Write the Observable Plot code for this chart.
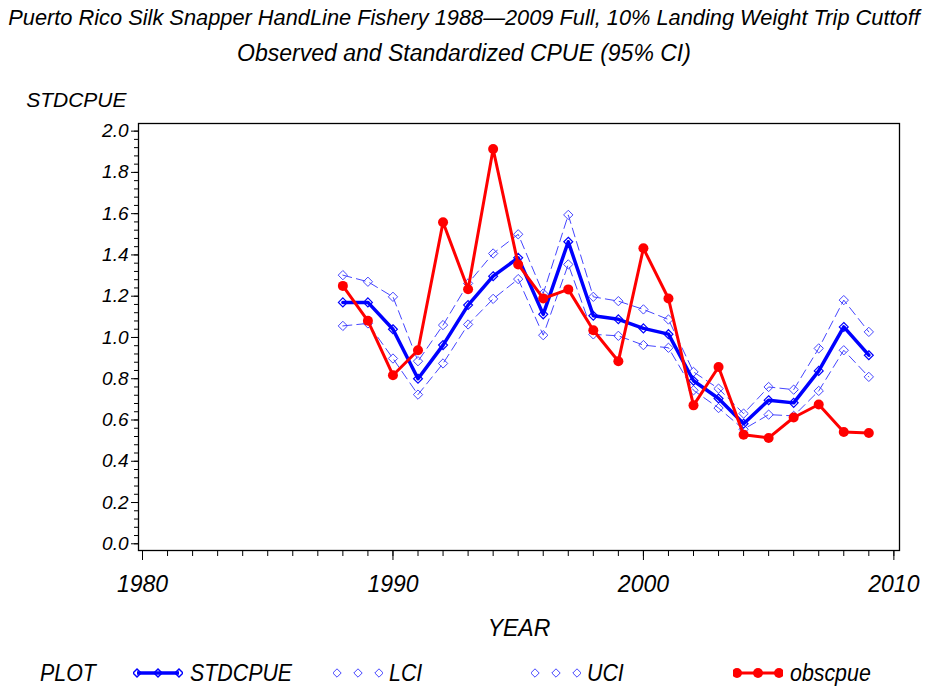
<!DOCTYPE html>
<html>
<head>
<meta charset="utf-8">
<script src="https://cdn.jsdelivr.net/npm/d3@7"></script>
<script src="https://cdn.jsdelivr.net/npm/@observablehq/plot@0.6"></script>
<style>
  body { margin: 0; background: #fff; width: 928px; height: 687px; overflow: hidden; }
  .f { font-family: "Liberation Sans", Arial, sans-serif; font-style: italic; color: #000; }
  #title { position: relative; height: 80px; }
  #title div { position: absolute; left: 0; width: 928px; text-align: center; white-space: nowrap; }
  #legend { position: relative; height: 46px; }
  #legend .t { position: absolute; font-size: 24px; line-height: 24px; white-space: nowrap; transform: scaleX(0.89); transform-origin: left center; }
  #legend svg { position: absolute; }
</style>
</head>
<body>
<div id="title" class="f">
  <div style="top:5px;font-size:21.8px;">Puerto Rico Silk Snapper HandLine Fishery 1988—2009 Full, 10% Landing Weight Trip Cuttoff</div>
  <div style="top:40px;font-size:23px;">Observed and Standardized CPUE (95% CI)</div>
</div>
<div id="chart"></div>
<div id="legend" class="f"></div>
<script>
// ---- data ----
const years    = [1988,1989,1990,1991,1992,1993,1994,1995,1996,1997,1998,1999,2000,2001,2002,2003,2004,2005,2006,2007,2008,2009];
const stdcpue  = [1.17,1.17,1.04,0.80,0.963,1.157,1.297,1.386,1.112,1.464,1.105,1.088,1.044,1.016,0.79,0.704,0.582,0.696,0.683,0.838,1.051,0.914];
const lci      = [1.056,1.068,0.898,0.723,0.874,1.063,1.187,1.283,1.011,1.354,1.015,1.008,0.963,0.95,0.744,0.658,0.555,0.626,0.62,0.741,0.938,0.809];
const uci      = [1.302,1.27,1.197,0.885,1.06,1.262,1.407,1.50,1.213,1.594,1.197,1.176,1.136,1.087,0.833,0.752,0.631,0.76,0.747,0.947,1.181,1.027];
const obscpue  = [1.25,1.081,0.817,0.938,1.558,1.234,1.913,1.354,1.189,1.233,1.035,0.885,1.432,1.189,0.671,0.857,0.529,0.513,0.612,0.675,0.542,0.537];
const xTicks      = [1980,1990,2000,2010];
const xMinorTicks = [1980,1981,1982,1983,1984,1985,1986,1987,1988,1989,1990,1991,1992,1993,1994,1995,1996,1997,1998,1999,2000,2001,2002,2003,2004,2005,2006,2007,2008,2009,2010];
const yTicks      = [0,0.2,0.4,0.6,0.8,1.0,1.2,1.4,1.6,1.8,2.0];
const yMinorTicks = d3.range(0, 51).map(i => +(i * 0.04).toFixed(2));
const legendItems = ["STDCPUE","LCI","UCI","obscpue"];

const FONT = '"Liberation Sans", Arial, sans-serif';
const BLUE = "#0000ff";
const BLUE2 = "#4545ff";
const RED = "#ff0000";

const data = years.map((year, i) => ({year, std: stdcpue[i], lci: lci[i], uci: uci[i], obs: obscpue[i]}));

const chart = Plot.plot({
  width: 928,
  height: 561,
  marginTop: 43,
  marginBottom: 91,
  marginLeft: 138,
  marginRight: 29,
  style: {fontFamily: FONT, fontStyle: "italic", background: "white", color: "black", overflow: "visible"},
  x: {domain: [1979.84, 2010.225]},
  y: {domain: [-0.0325, 2.037]},
  marks: [
    Plot.frame({stroke: "black", strokeWidth: 1.3}),
    Plot.axisY(yMinorTicks, {tickSize: 4, text: null, label: null, stroke: "black"}),
    Plot.axisY(yTicks, {tickSize: 7, tickPadding: 3, tickFormat: d3.format(".1f"), fontSize: 19, label: null, stroke: "black"}),
    Plot.axisX(xMinorTicks, {tickSize: 6, text: null, label: null, stroke: "black"}),
    Plot.axisX(xTicks, {tickSize: 10, tickPadding: 15, tickFormat: d => String(d), fontSize: 23, label: null, stroke: "black"}),
    Plot.text(["STDCPUE"], {frameAnchor: "top-left", dx: -12, dy: -23, textAnchor: "end", lineAnchor: "middle", fontSize: 21, fill: "black"}),
    Plot.text(["YEAR"], {frameAnchor: "bottom", dy: 78, lineAnchor: "middle", fontSize: 23, fill: "black"}),
    Plot.line(data, {x: "year", y: "lci", stroke: BLUE2, strokeWidth: 1, strokeDasharray: "9,5"}),
    Plot.dot(data, {x: "year", y: "lci", symbol: "diamond2", r: 4.2, stroke: BLUE2, strokeWidth: 1, fill: "none"}),
    Plot.line(data, {x: "year", y: "uci", stroke: BLUE2, strokeWidth: 1, strokeDasharray: "9,5"}),
    Plot.dot(data, {x: "year", y: "uci", symbol: "diamond2", r: 4.2, stroke: BLUE2, strokeWidth: 1, fill: "none"}),
    Plot.line(data, {x: "year", y: "std", stroke: BLUE, strokeWidth: 3.5}),
    Plot.dot(data, {x: "year", y: "std", symbol: "diamond2", r: 4, stroke: BLUE, strokeWidth: 1.2, fill: "none"}),
    Plot.line(data, {x: "year", y: "obs", stroke: RED, strokeWidth: 3}),
    Plot.dot(data, {x: "year", y: "obs", r: 5, fill: RED, stroke: "none"})
  ]
});
document.getElementById("chart").appendChild(chart);

// ---- legend (below the chart) ----
const legend = document.getElementById("legend");
function addText(txt, left) {
  const d = document.createElement("div");
  d.className = "t";
  d.style.left = left + "px";
  d.style.top = "20px";
  d.textContent = txt;
  legend.appendChild(d);
}
function diamond(cx, cy, r, stroke, sw) {
  return `<path d="M${cx},${cy - r}L${cx + r},${cy}L${cx},${cy + r}L${cx - r},${cy}Z" fill="none" stroke="${stroke}" stroke-width="${sw}"/>`;
}
function swatch(left, kind) {
  const w = 50, h = 20, cy = 10;
  let s = `<svg width="${w}" height="${h}" style="left:${left}px;top:22px">`;
  const xs = [4, 25, 46];
  if (kind === "std") {
    s += `<line x1="4" x2="46" y1="${cy}" y2="${cy}" stroke="${BLUE}" stroke-width="3.5"/>`;
    xs.forEach(x => s += diamond(x, cy, 4, BLUE, 1.5));
  } else if (kind === "ci") {
    xs.forEach(x => s += diamond(x, cy, 4.2, BLUE2, 1));
  } else {
    s += `<line x1="4" x2="46" y1="${cy}" y2="${cy}" stroke="${RED}" stroke-width="3"/>`;
    xs.forEach(x => s += `<circle cx="${x}" cy="${cy}" r="5" fill="${RED}"/>`);
  }
  s += `</svg>`;
  legend.insertAdjacentHTML("beforeend", s);
}
addText("PLOT", 40);
swatch(133, "std");  addText(legendItems[0], 190);
swatch(333, "ci");   addText(legendItems[1], 389);
swatch(531, "ci");   addText(legendItems[2], 587);
swatch(733, "obs");  addText(legendItems[3], 790);
</script>
</body>
</html>
